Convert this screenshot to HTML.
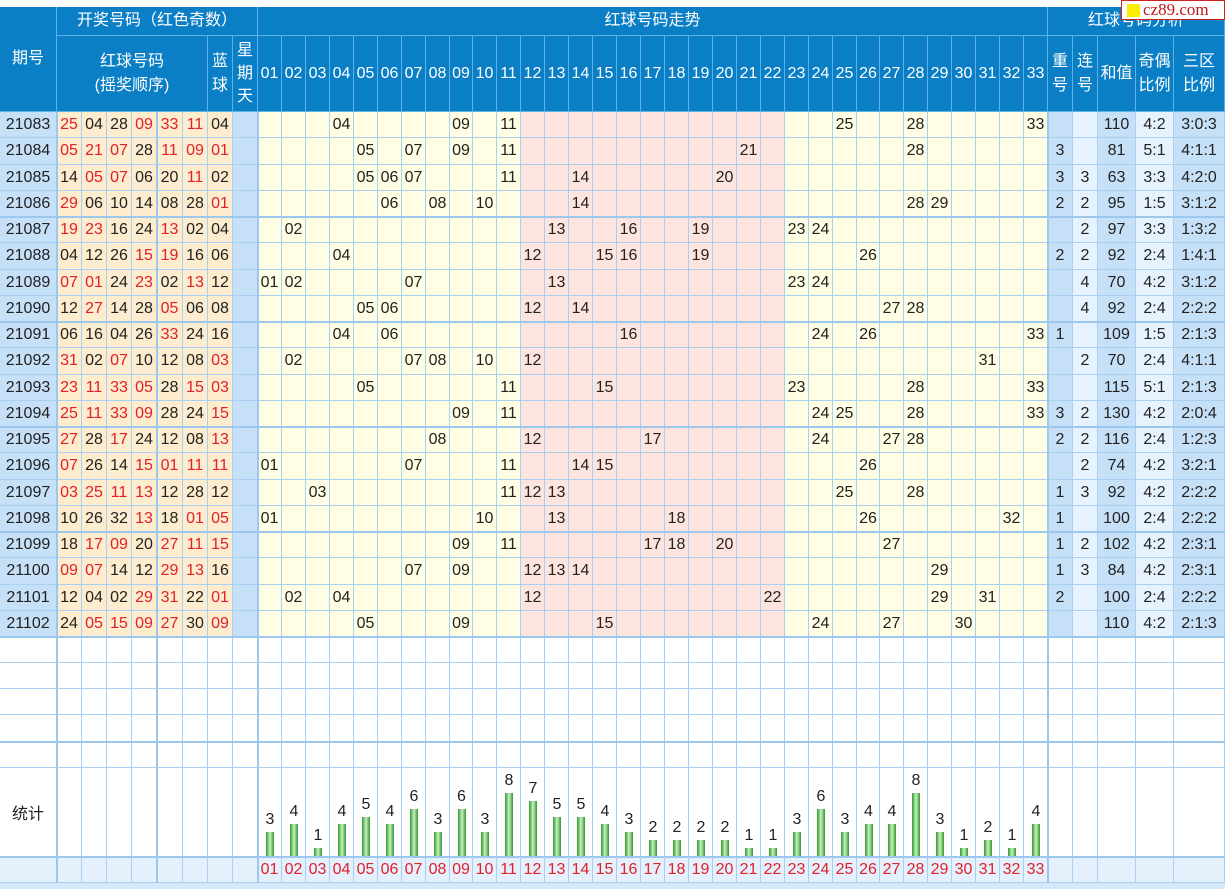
<!DOCTYPE html>
<html><head><meta charset="utf-8">
<style>
html,body{margin:0;padding:0;background:#fff;}
#root{position:relative;width:1225px;height:889px;overflow:hidden;font-family:"Liberation Sans","Noto Sans CJK SC",sans-serif;background:#fff;}
.c{position:absolute;box-sizing:border-box;border-right:1px solid #a9d0f2;border-bottom:1px solid #a9d0f2;display:flex;align-items:center;justify-content:center;font-size:16px;color:#222;white-space:nowrap;overflow:hidden;}
.h{background:#0a7fc6;color:#fff;border-color:#5fb0e6;text-align:center;line-height:1.45;}
.r{color:#e0202a;}
.tk{position:absolute;background:#9cc8ee;}
.bar{position:absolute;background:linear-gradient(90deg,#2e9a2e,#c8f0c0 50%,#2e9a2e);}
.bl{position:absolute;font-size:16px;color:#222;text-align:center;width:24px;}
</style></head>
<body>
<div id="root"></div>
<script>
const issues=["21083","21084","21085","21086","21087","21088","21089","21090","21091","21092","21093","21094","21095","21096","21097","21098","21099","21100","21101","21102"];
const redDraws=[[25,4,28,9,33,11],[5,21,7,28,11,9],[14,5,7,6,20,11],[29,6,10,14,8,28],[19,23,16,24,13,2],[4,12,26,15,19,16],[7,1,24,23,2,13],[12,27,14,28,5,6],[6,16,4,26,33,24],[31,2,7,10,12,8],[23,11,33,5,28,15],[25,11,33,9,28,24],[27,28,17,24,12,8],[7,26,14,15,1,11],[3,25,11,13,12,28],[10,26,32,13,18,1],[18,17,9,20,27,11],[9,7,14,12,29,13],[12,4,2,29,31,22],[24,5,15,9,27,30]];
const blueDraws=[4,1,2,1,4,6,12,8,16,3,3,15,13,11,12,5,15,16,1,9];
const repeatCounts=[0,3,3,2,0,2,0,0,1,0,0,3,2,0,1,1,1,1,2,0];
const consecCounts=[0,0,3,2,2,2,4,4,0,2,0,2,2,2,3,0,2,3,0,0];
const sums=[110,81,63,95,97,92,70,92,109,70,115,130,116,74,92,100,102,84,100,110];
const oddEven=["4:2","5:1","3:3","1:5","3:3","2:4","4:2","2:4","1:5","2:4","5:1","4:2","2:4","4:2","4:2","2:4","4:2","4:2","2:4","4:2"];
const zones=["3:0:3","4:1:1","4:2:0","3:1:2","1:3:2","1:4:1","3:1:2","2:2:2","2:1:3","4:1:1","2:1:3","2:0:4","1:2:3","3:2:1","2:2:2","2:2:2","2:3:1","2:3:1","2:2:2","2:1:3"];
const freqCounts=[3,4,1,4,5,4,6,3,6,3,8,7,5,5,4,3,2,2,2,2,1,1,3,6,3,4,4,8,3,1,2,1,4];

const root=document.getElementById('root');
const p2=n=>(n<10?'0':'')+n;
function cell(x,y,w,h,txt,cls,bg,name){
  const d=document.createElement('div');
  d.className='c '+(cls||'');
  d.style.left=x+'px';d.style.top=y+'px';d.style.width=w+'px';d.style.height=h+'px';
  if(bg)d.style.background=bg;
  d.innerHTML=txt||'';
  
  
  root.appendChild(d);return d;
}
const redX=[0,57,82,107,132,157,183,208,233,258];
const NX=k=>Math.round(258+k*23.94);
const rightX=[1048,1073,1098,1136,1174,1225];
// header
cell(0,7,57,105,'期号','h',null,'issue-header');
cell(57,7,201,29,'开奖号码（红色奇数）','h',null,'draw-header');
cell(258,7,790,29,'红球号码走势','h',null,'trend-header');
cell(1048,7,177,29,'红球号码分析','h',null,'analysis-header');
cell(57,36,151,76,'红球号码<br>(摇奖顺序)','h',null,'red-ball-header');
cell(208,36,25,76,'蓝<br>球','h',null,'blue-ball-header');
cell(233,36,25,76,'星<br>期<br>天','h',null,'weekday-header');
for(let k=0;k<33;k++)cell(NX(k),36,NX(k+1)-NX(k),76,p2(k+1),'h',null,'number-header-'+p2(k+1));
const rh=['重<br>号','连<br>号','和值','奇偶<br>比例','三区<br>比例'];
const rn=['repeat-header','consec-header','sum-header','odd-even-header','zone-header'];
for(let i=0;i<5;i++)cell(rightX[i],36,rightX[i+1]-rightX[i],76,rh[i],'h',null,rn[i]);
// data rows
const Y=i=>Math.round(112+i*26.25);
const rbg=['#c6e0f8','#e6f2fd','#c6e0f8','#e6f2fd','#c6e0f8'];
issues.forEach((iss,i)=>{
  const y=Y(i),h=Y(i+1)-y;
  cell(0,y,57,h,iss,'','#c6e0f8','issue-'+iss);
  redDraws[i].forEach((n,j)=>cell(redX[j+1],y,redX[j+2]-redX[j+1],h,p2(n),n%2?'r':'','#fdeccd','red-ball'));
  const b=blueDraws[i];
  cell(208,y,25,h,p2(b),b%2?'r':'','#fdeccd','blue-ball');
  cell(233,y,25,h,'','','#c6e0f8','weekday');
  for(let k=1;k<=33;k++){
    const hit=redDraws[i].includes(k);
    cell(NX(k-1),y,NX(k)-NX(k-1),h,hit?p2(k):'','',(k>=12&&k<=22)?'#fde4df':'#fffde3','trend-cell');
  }
  const vals=[repeatCounts[i],consecCounts[i],sums[i],oddEven[i],zones[i]];
  for(let j=0;j<5;j++)cell(rightX[j],y,rightX[j+1]-rightX[j],h,vals[j],'',rbg[j],rn[j].replace('-header','-value'));
});
// blank rows + stats
const allX=[...redX,...Array.from({length:33},(_,k)=>NX(k+1)),...rightX.slice(1)];
const blankY=[637,663,689,715,742,768];
for(let r=0;r<5;r++)for(let c=0;c<allX.length-1;c++)cell(allX[c],blankY[r],allX[c+1]-allX[c],blankY[r+1]-blankY[r],'','','#fff','blank-cell');
for(let c=0;c<allX.length-1;c++)cell(allX[c],768,allX[c+1]-allX[c],89,c==0?'统计':'','','#fff',c==0?'stats-label':'stats-cell');
for(let c=0;c<allX.length-1;c++){
  const k=c-9;
  cell(allX[c],857,allX[c+1]-allX[c],26,(k>=0&&k<33)?p2(k+1):'','r','#e4f1fd','axis-label');
}
const bot=document.createElement('div');bot.style.cssText='position:absolute;left:0;top:883px;width:1225px;height:6px;background:#d4e8fa;';


root.appendChild(bot);
// thick lines
function tk(x,y,w,h){const d=document.createElement('div');d.className='tk';d.style.cssText+=`left:${x}px;top:${y}px;width:${w}px;height:${h}px;`;


root.appendChild(d);}
[4,8,12,16,20].forEach(i=>tk(0,Y(i)-1,1225,2));
tk(0,741,1225,2);tk(0,856,1225,2);
tk(56,112,2,771);tk(156,112,2,771);tk(257,112,2,771);tk(1047,112,2,771);
// bars
const yv=v=>856-v*7.9;
freqCounts.forEach((v,k)=>{
  const cx=(NX(k)+NX(k+1))/2;
  const b=document.createElement('div');b.className='bar';
  b.style.left=(cx-4)+'px';b.style.top=yv(v)+'px';b.style.width='8px';b.style.height=(856-yv(v))+'px';
  
  
  root.appendChild(b);
  const l=document.createElement('div');l.className='bl';
  l.style.left=(cx-12)+'px';l.style.top=(yv(v)-21)+'px';l.textContent=v;
  
  
  root.appendChild(l);
});
// logo
const lg=document.createElement('div');
lg.style.cssText='position:absolute;left:1121px;top:0;width:104px;height:20px;background:#fff;border:1px solid #c22;box-sizing:border-box;display:flex;align-items:center;font-family:"Liberation Serif",serif;font-size:17px;color:#c01818;';
lg.innerHTML='<span style="display:inline-block;width:13px;height:13px;background:#ffee00;margin:0 3px 0 5px"></span>cz89.com';


root.appendChild(lg);
</script>
</body></html>
